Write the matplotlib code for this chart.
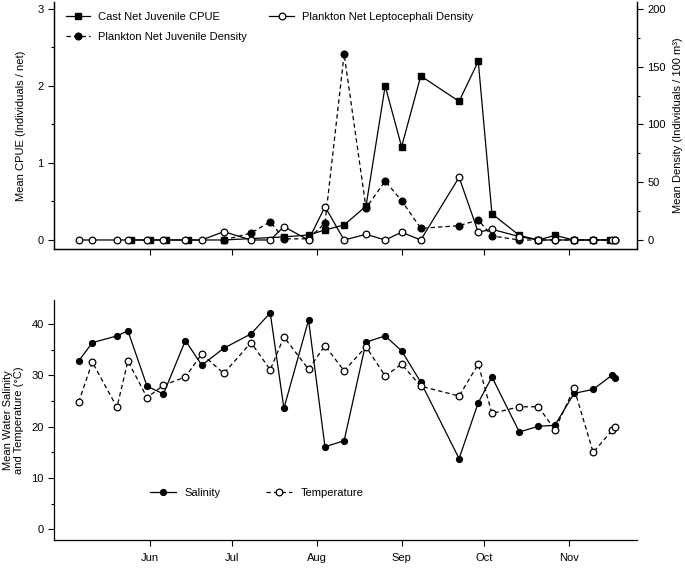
import matplotlib
matplotlib.use('Agg')
import matplotlib.pyplot as plt
from matplotlib.ticker import MultipleLocator
import numpy as np

plt.rcParams['font.family'] = ['Liberation Sans', 'DejaVu Sans']
plt.rcParams['font.size'] = 8

YEAR = 2008

# ---- data ----
sample_dates = ['05-06', '05-11', '05-20', '05-24', '05-31', '06-06', '06-14', '06-20',
                '06-28', '07-08', '07-15', '07-20', '07-29', '08-04', '08-11', '08-19',
                '08-26', '09-01', '09-08', '09-22', '09-29', '10-04', '10-14', '10-21',
                '10-27', '11-03', '11-10', '11-17', '11-18']

lepto_density = [0, 0, 0, 0, 0, 0, 0, 0, 7.2, 0, 0, 11.5, 0, 28.8, 0, 4.9, 0, 6.7, 0,
                 54.3, 6.7, 9.3, 2.9, 0, 0, 0, 0, 0, 0]

juv_dates = ['06-28', '07-08', '07-15', '07-20', '07-29', '08-04', '08-11', '08-19',
             '08-26', '09-01', '09-08', '09-22', '09-29', '10-04', '10-14', '10-21',
             '10-27', '11-03', '11-10', '11-18']
juv_density = [0, 6.0, 15.8, 1.0, 1.0, 14.7, 161, 27.7, 51, 34, 10.1, 12.4, 17.3, 3.5,
               0, 0, 0, 0, 0, 0]

cpue_dates = ['05-25', '06-01', '06-07', '06-15', '06-28', '07-20', '07-29', '08-04',
              '08-11', '08-19', '08-26', '09-01', '09-08', '09-22', '09-29', '10-04',
              '10-14', '10-21', '10-27', '11-03', '11-10', '11-16']
cpue = [0, 0, 0, 0, 0, 0.04, 0.065, 0.13, 0.195, 0.44, 2.0, 1.21, 2.13, 1.80, 2.32, 0.34,
        0.06, 0, 0.06, 0, 0, 0]

salinity = [32.8, 36.4, 37.7, 38.7, 27.9, 26.4, 36.8, 32.0, 35.3, 38.1, 42.2, 23.6, 40.8,
            16.1, 17.3, 36.5, 37.7, 34.8, 28.7, 13.8, 24.7, 29.7, 19.0, 20.1, 20.3, 26.5,
            27.3, 30.1, 29.6]
temperature = [24.8, 32.6, 23.8, 32.8, 25.7, 28.1, 29.7, 34.2, 30.4, 36.4, 31.1, 37.5,
               31.2, 35.8, 30.9, 35.6, 29.9, 32.2, 27.9, 26.0, 32.2, 22.6, 23.9, 23.9,
               19.4, 27.5, 15.0, 19.4, 19.9]

month_labels = ['Jun', 'Jul', 'Aug', 'Sep', 'Oct', 'Nov']


def todates(lst):
    return np.array([np.datetime64(f'{YEAR}-{s}') for s in lst])


d_all = todates(sample_dates)
d_juv = todates(juv_dates)
d_cpue = todates(cpue_dates)

W, H = 685, 568
fig = plt.figure(figsize=(W / 100, H / 100), dpi=100)

L, R = 54, 637


def box(x0, y0, x1, y1):
    return [x0 / W, 1 - y1 / H, (x1 - x0) / W, (y1 - y0) / H]


ax1 = fig.add_axes(box(L, 2, R, 249))
ax2 = ax1.twinx()
axb = fig.add_axes(box(L, 300, R, 539.5))

xmin = np.datetime64(f'{YEAR}-04-27')
xmax = np.datetime64(f'{YEAR}-11-26')
month_ticks = todates(['06-01', '07-01', '08-01', '09-01', '10-01', '11-01'])

lw = 0.9
ms_sq = 4.2
ms_c = 4.8
dash = (0, (3.5, 2.5))

l1, = ax1.plot(d_cpue, cpue, color='black', lw=lw, marker='s', ms=ms_sq,
               mfc='black', mec='black', label='Cast Net Juvenile CPUE', zorder=3)
l2, = ax2.plot(d_juv, juv_density, color='black', lw=lw, ls=dash, marker='o', ms=ms_c,
               mfc='black', mec='black', label='Plankton Net Juvenile Density', zorder=3)
l3, = ax2.plot(d_all, lepto_density, color='black', lw=lw, marker='o', ms=ms_c,
               mfc='white', mec='black', mew=0.9, label='Plankton Net Leptocephali Density',
               zorder=4)

ax1.set_ylim(-0.117, 3.09)
ax2.set_ylim(-0.117 * 200 / 3, 3.09 * 200 / 3)
ax1.set_xlim(xmin, xmax)
ax1.set_yticks([0, 1, 2, 3])
ax1.yaxis.set_minor_locator(MultipleLocator(0.5))
ax2.set_yticks([0, 50, 100, 150, 200])
ax2.yaxis.set_minor_locator(MultipleLocator(25))
ax1.set_xticks(month_ticks)
ax1.set_xticklabels([])
ax1.spines['top'].set_visible(False)
ax2.spines['top'].set_visible(False)
ax1.set_ylabel('Mean CPUE (Individuals / net)', labelpad=8)
ax2.set_ylabel('Mean Density (Individuals / 100 m³)', labelpad=5)

ax1.legend(handles=[l1, l2, l3], ncol=2, frameon=False, loc='upper left',
           bbox_to_anchor=(56 / W, 1 - 2 / H), bbox_transform=fig.transFigure,
           handlelength=2.2, columnspacing=2.0, labelspacing=0.9, handletextpad=0.7,
           fontsize=8)

lb1, = axb.plot(d_all, salinity, color='black', lw=lw, marker='o', ms=4.2,
                mfc='black', mec='black', label='Salinity', zorder=3)
lb2, = axb.plot(d_all, temperature, color='black', lw=lw, ls=dash, marker='o', ms=ms_c,
                mfc='white', mec='black', mew=0.9, label='Temperature', zorder=4)
axb.set_xlim(xmin, xmax)
axb.set_ylim(-1.95, 44.7)
axb.set_yticks([0, 10, 20, 30, 40])
axb.yaxis.set_minor_locator(MultipleLocator(5))
axb.set_xticks(month_ticks)
axb.set_xticklabels(month_labels)
axb.spines['top'].set_visible(False)
axb.spines['right'].set_visible(False)
axb.set_ylabel('Mean Water Salinity\nand Temperature (°C)', labelpad=5)
axb.legend(handles=[lb1, lb2], ncol=2, frameon=False, loc='center left',
           bbox_to_anchor=(140 / W, 1 - 493 / H), bbox_transform=fig.transFigure,
           handlelength=2.3, columnspacing=4.1, handletextpad=0.8, fontsize=8)

for a in (ax1, ax2, axb):
    a.tick_params(which='major', direction='out', length=4, width=0.8, labelsize=8)
    a.tick_params(which='minor', direction='out', length=2.5, width=0.8)
    for s in a.spines.values():
        s.set_linewidth(0.9)
ax1.tick_params(axis='x', which='minor', length=0)
axb.tick_params(axis='x', which='minor', length=0)
axb.tick_params(axis='x', pad=6)

fig.savefig('out.png', dpi=100)
